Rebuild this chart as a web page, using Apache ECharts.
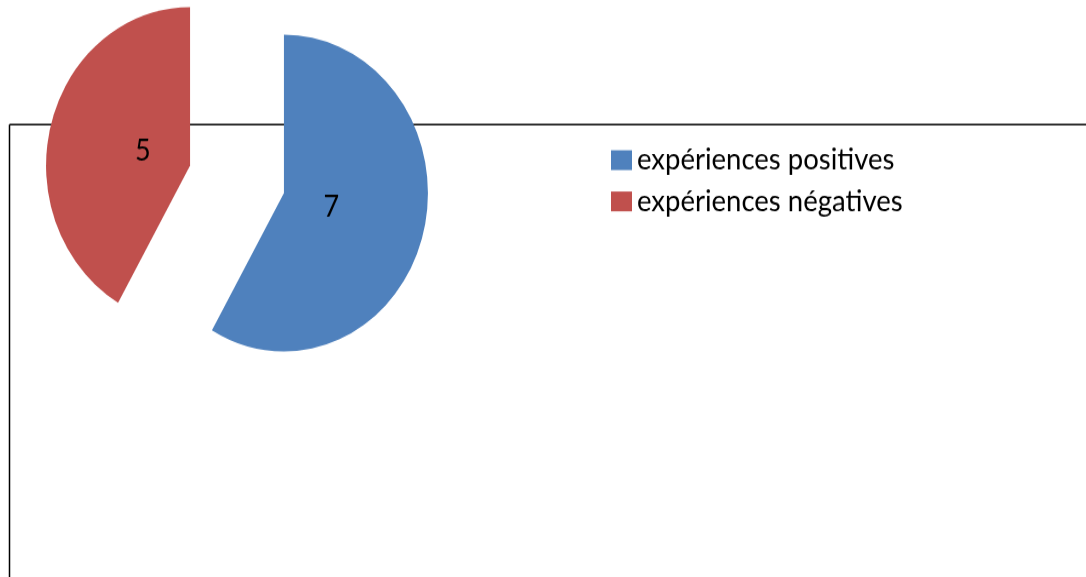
<!DOCTYPE html>
<html>
<head>
<meta charset="utf-8">
<script src="https://cdn.jsdelivr.net/npm/echarts@6/dist/echarts.min.js"></script>
<style>
  html, body { margin: 0; padding: 0; background: #fff; width: 1086px; height: 577px; overflow: hidden; }
  #chart { width: 1086px; height: 525px; transform: scaleY(1.1); transform-origin: 0 0; }
</style>
</head>
<body>
<div id="chart"></div>
<script>
// Survey answers: count of positive vs negative experiences
const categories = ['expériences positives', 'expériences négatives'];
const counts = [7, 5];
const colors = ['#4F81BD', '#C0504D'];

const FONT = 'Lato, "Liberation Sans", sans-serif';
const center = [237, 163];
const radius = 144;
const explode = 48.6;

const sliceData = categories.map((name, i) => ({
  name: name,
  value: counts[i],
  selected: true,
  itemStyle: { color: colors[i] }
}));

// transparent copy with a smaller radius, only used to place the value labels
const labelData = categories.map((name, i) => ({
  name: name,
  value: counts[i],
  selected: true,
  itemStyle: { color: 'rgba(0,0,0,0)' }
}));

const chart = echarts.init(document.getElementById('chart'), null, { renderer: 'canvas' });
chart.setOption({
  animation: false,
  backgroundColor: '#fff',
  color: colors,
  graphic: [
    {
      type: 'line',
      z: 0,
      shape: { x1: 9.5, y1: 113.2, x2: 1086, y2: 113.2 },
      style: { stroke: '#000', lineWidth: 1.5 }
    },
    {
      type: 'line',
      z: 0,
      shape: { x1: 9.5, y1: 113.2, x2: 9.5, y2: 525 },
      style: { stroke: '#000', lineWidth: 1.5 }
    }
  ],
  legend: {
    orient: 'vertical',
    left: 611,
    top: 131.6,
    padding: 0,
    itemWidth: 21,
    itemHeight: 18,
    itemGap: 9.5,
    icon: 'rect',
    selectedMode: false,
    data: categories,
    textStyle: { fontFamily: FONT, fontSize: 27.5, color: '#000' }
  },
  series: [
    {
      type: 'pie',
      z: 2,
      center: center,
      radius: radius,
      startAngle: 90,
      clockwise: true,
      selectedMode: 'multiple',
      selectedOffset: explode,
      silent: true,
      label: { show: false },
      labelLine: { show: false },
      emphasis: { disabled: true },
      itemStyle: { borderWidth: 0 },
      data: sliceData
    },
    {
      type: 'pie',
      z: 3,
      center: center,
      radius: 92,
      startAngle: 90,
      clockwise: true,
      selectedMode: 'multiple',
      selectedOffset: explode,
      silent: true,
      legendHoverLink: false,
      emphasis: { disabled: true },
      label: {
        show: true,
        position: 'inside',
        formatter: '{c}',
        fontFamily: FONT,
        fontSize: 27,
        color: '#000'
      },
      labelLine: { show: false },
      itemStyle: { borderWidth: 0 },
      data: labelData
    }
  ]
});
</script>
</body>
</html>
